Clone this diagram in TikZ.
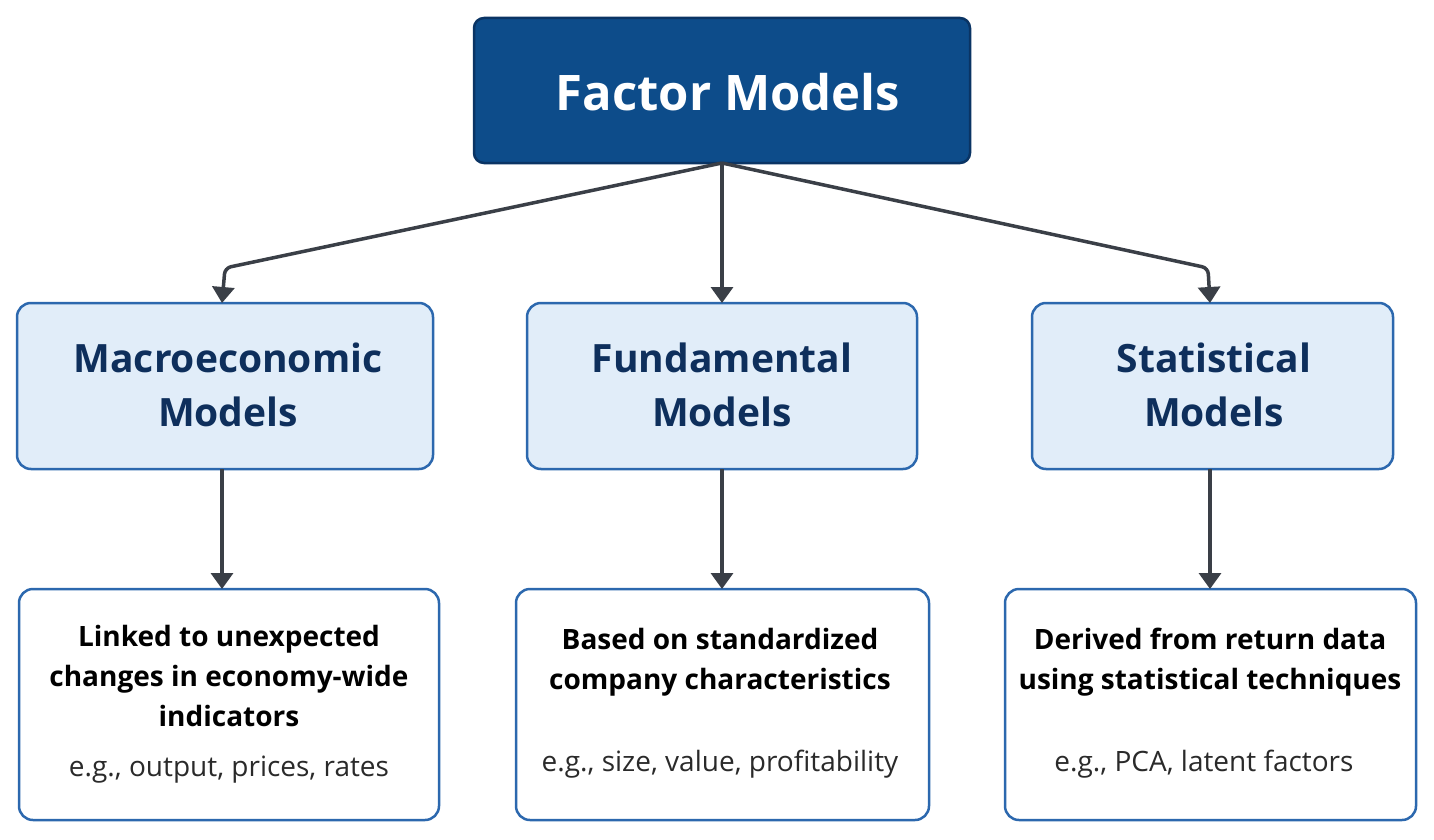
\documentclass[tikz,border=0pt]{standalone}
\usepackage{fontspec}
\setmainfont{Open Sans}
\usetikzlibrary{arrows.meta}
\definecolor{topfill}{HTML}{0D4C8A}
\definecolor{topdraw}{HTML}{0A3464}
\definecolor{midfill}{HTML}{E1EDF9}
\definecolor{middraw}{HTML}{2C68AE}
\definecolor{midtext}{HTML}{0E2F5C}
\definecolor{arr}{HTML}{3A3F47}
\definecolor{ex}{HTML}{2A2A2A}
\tikzset{
 topbox/.style={draw=topdraw,fill=topfill,line width=2.5pt,rounded corners=10pt},
 midbox/.style={draw=middraw,fill=midfill,line width=2.5pt,rounded corners=14pt},
 midtxt/.style={text=midtext,align=center,font=\fontsize{39}{54}\selectfont\bfseries},
 botbox/.style={draw=middraw,fill=white,line width=2.5pt,rounded corners=14pt},
 desc/.style={align=center,font=\fontsize{28}{40}\selectfont\bfseries,text=black},
 exs/.style={font=\fontsize{28}{32}\selectfont,text=ex},
 conn/.style={draw=arr,line width=3.5pt,rounded corners=6pt,-{Triangle[length=16pt,width=22pt]}}
}
\begin{document}
\begin{tikzpicture}[x=1pt,y=-1pt]
\useasboundingbox (0,0) rectangle (1434,840);
\draw[topbox] (474,18) rectangle (970,163);
\node[text=white,font=\fontsize{49}{56}\selectfont\bfseries] (top) at (728,92) {Factor Models};
\coordinate (tb) at (722,163);
\draw[midbox] (17,303) rectangle (433,469);
\draw[midbox] (527,303) rectangle (917,469);
\draw[midbox] (1032,303) rectangle (1393,469);
\node[midtxt] (m1) at (228,385) {Macroeconomic\\Models};
\node[midtxt] (m2) at (722,385) {Fundamental\\Models};
\node[midtxt] (m3) at (1214,385) {Statistical\\Models};
\coordinate (m1t) at (222,303); \coordinate (m2t) at (722,303); \coordinate (m3t) at (1210,303);
\coordinate (m1b) at (222,469); \coordinate (m2b) at (722,469); \coordinate (m3b) at (1210,469);
\draw[botbox] (19,589) rectangle (439,820);
\draw[botbox] (516,589) rectangle (929,820);
\draw[botbox] (1005,589) rectangle (1416,820);
\coordinate (b1t) at (222,589); \coordinate (b2t) at (722,589); \coordinate (b3t) at (1210,589);
\node[desc] (d1) at (229,676) {Linked to unexpected\\changes in economy-wide\\indicators};
\node[exs] (e1) at (229,770) {e.g., output, prices, rates};
\node[desc] (d2) at (720,662) {Based on standardized\\company characteristics};
\node[exs] (e2) at (720,764) {e.g., size, value, profitability};
\node[desc] (d3) at (1210,662) {Derived from return data\\using statistical techniques};
\node[exs] (e3) at (1204,764) {e.g., PCA, latent factors};
\draw[conn] (tb) -- (225,268) -- (m1t);
\draw[conn] (tb) -- (m2t);
\draw[conn] (tb) -- (1208,268) -- (m3t);
\draw[conn] (m1b) -- (b1t);
\draw[conn] (m2b) -- (b2t);
\draw[conn] (m3b) -- (b3t);
\end{tikzpicture}
\end{document}
